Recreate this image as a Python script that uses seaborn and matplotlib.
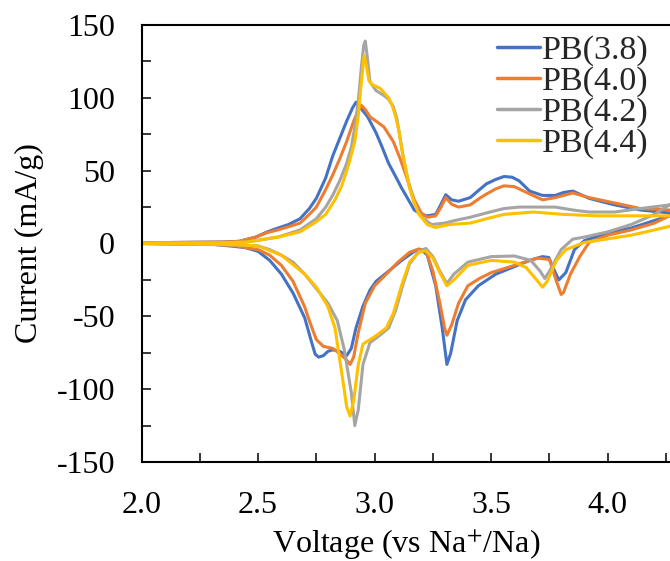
import numpy as np
import pandas as pd
import matplotlib
matplotlib.use("Agg")
import matplotlib.pyplot as plt
from matplotlib.ticker import MultipleLocator
import seaborn as sns

series_names = ["PB(3.8)", "PB(4.0)", "PB(4.2)", "PB(4.4)"]
series_colors = ["#4472C4", "#ED7D31", "#A5A5A5", "#FFC000"]

# ---- PB(3.8) ----
b_up_v = [2.00, 2.20, 2.35, 2.42, 2.49, 2.54, 2.585, 2.63, 2.68, 2.72, 2.75, 2.79, 2.82, 2.85, 2.88, 2.905, 2.92, 2.94, 2.97, 3.006, 3.03, 3.06, 3.09, 3.116, 3.145, 3.17, 3.20, 3.226, 3.262, 3.285, 3.305, 3.33, 3.36, 3.41, 3.45, 3.48, 3.52, 3.555, 3.59, 3.62, 3.665, 3.72, 3.775, 3.81, 3.85, 3.92, 4.03, 4.14, 4.265, 4.32]
b_up_i = [0.5, 0.8, 1.0, 1.5, 4.4, 8.0, 10.6, 13.0, 17.0, 24.0, 31.0, 45.0, 60.0, 72.0, 84.0, 93.0, 97.0, 93.0, 87.0, 76.0, 67.0, 55.0, 46.0, 38.0, 30.0, 23.0, 20.0, 19.0, 20.0, 27.0, 33.5, 30.0, 29.0, 31.5, 37.0, 41.0, 44.0, 46.0, 45.5, 43.0, 36.0, 33.0, 33.0, 35.0, 36.0, 31.0, 26.5, 23.0, 21.0, 20.0]
b_lo_v = [2.00, 2.30, 2.40, 2.45, 2.50, 2.55, 2.60, 2.65, 2.70, 2.73, 2.745, 2.76, 2.78, 2.80, 2.82, 2.85, 2.88, 2.90, 2.92, 2.95, 2.98, 3.006, 3.06, 3.116, 3.17, 3.20, 3.226, 3.262, 3.29, 3.31, 3.326, 3.354, 3.39, 3.445, 3.52, 3.59, 3.665, 3.72, 3.747, 3.765, 3.79, 3.82, 3.857, 3.90, 3.995, 4.10, 4.195, 4.265]
b_lo_i = [0.0, -0.5, -2.0, -3.0, -5.4, -11.6, -21.0, -34.0, -51.0, -68.0, -76.0, -78.0, -77.0, -74.0, -73.0, -74.0, -77.0, -72.0, -58.0, -43.0, -32.0, -26.0, -19.0, -11.6, -5.4, -4.2, -8.0, -29.0, -58.0, -83.0, -75.5, -53.0, -38.6, -29.0, -21.0, -16.5, -11.6, -9.0, -9.6, -16.5, -25.0, -20.0, -4.2, 2.0, 7.0, 10.6, 15.5, 19.0]

# ---- PB(4.0) ----
o_up_v = [2.00, 2.35, 2.42, 2.49, 2.54, 2.585, 2.63, 2.68, 2.72, 2.75, 2.79, 2.82, 2.85, 2.88, 2.91, 2.924, 2.942, 2.96, 2.98, 3.006, 3.04, 3.06, 3.08, 3.11, 3.134, 3.155, 3.17, 3.20, 3.226, 3.262, 3.285, 3.305, 3.33, 3.36, 3.41, 3.45, 3.48, 3.52, 3.555, 3.60, 3.665, 3.72, 3.775, 3.85, 3.92, 4.03, 4.14, 4.265, 4.32]
o_up_i = [0.5, 1.0, 1.5, 4.4, 7.5, 9.3, 11.5, 14.0, 20.0, 25.0, 37.0, 47.0, 58.0, 70.0, 84.0, 89.0, 95.0, 92.0, 87.0, 84.0, 80.0, 75.0, 70.0, 58.0, 47.0, 37.0, 30.0, 21.0, 18.0, 19.0, 25.0, 31.5, 27.0, 25.0, 26.5, 31.0, 34.0, 37.5, 39.6, 39.0, 34.0, 30.0, 31.5, 34.7, 31.5, 27.8, 24.0, 23.0, 21.0]
o_lo_v = [2.00, 2.30, 2.40, 2.50, 2.55, 2.60, 2.65, 2.70, 2.72, 2.75, 2.78, 2.82, 2.85, 2.88, 2.895, 2.91, 2.93, 2.96, 3.00, 3.05, 3.10, 3.15, 3.19, 3.22, 3.25, 3.28, 3.30, 3.31, 3.33, 3.36, 3.40, 3.45, 3.50, 3.60, 3.70, 3.75, 3.78, 3.80, 3.81, 3.84, 3.88, 3.92, 4.00, 4.10, 4.20, 4.265]
o_lo_i = [0.0, -0.5, -1.5, -4.2, -8.0, -15.0, -26.0, -43.5, -53.0, -66.0, -70.6, -72.0, -75.5, -80.0, -83.0, -78.0, -61.0, -41.0, -29.0, -21.0, -12.8, -6.0, -3.7, -5.4, -19.0, -41.0, -58.0, -63.0, -56.0, -41.0, -29.0, -24.0, -20.0, -15.0, -10.0, -11.0, -26.0, -35.0, -33.7, -21.0, -9.0, 0.7, 5.7, 9.3, 14.0, 19.0]

# ---- PB(4.2) ----
g_up_v = [2.00, 2.35, 2.45, 2.49, 2.585, 2.68, 2.75, 2.79, 2.82, 2.85, 2.88, 2.90, 2.915, 2.93, 2.942, 2.953, 2.96, 2.967, 2.98, 3.006, 3.04, 3.06, 3.08, 3.095, 3.107, 3.12, 3.134, 3.15, 3.17, 3.19, 3.21, 3.244, 3.30, 3.35, 3.41, 3.48, 3.555, 3.62, 3.68, 3.775, 3.85, 3.92, 4.03, 4.14, 4.265, 4.32]
g_up_i = [0.3, 0.5, 1.0, 2.0, 4.4, 9.3, 17.0, 25.0, 33.0, 43.0, 55.0, 66.0, 80.0, 98.0, 119.0, 136.0, 139.0, 130.0, 111.0, 105.0, 101.6, 99.0, 94.0, 86.0, 74.5, 62.0, 50.0, 39.0, 28.0, 21.0, 17.0, 13.0, 14.0, 16.0, 18.0, 21.0, 24.0, 25.0, 25.0, 25.0, 23.0, 21.6, 21.6, 24.0, 26.5, 28.0]
g_lo_v = [2.00, 2.40, 2.50, 2.55, 2.60, 2.65, 2.70, 2.75, 2.80, 2.84, 2.87, 2.90, 2.915, 2.93, 2.95, 2.98, 3.00, 3.03, 3.06, 3.09, 3.12, 3.15, 3.19, 3.22, 3.25, 3.28, 3.31, 3.34, 3.40, 3.50, 3.60, 3.67, 3.71, 3.73, 3.75, 3.80, 3.85, 3.90, 4.00, 4.10, 4.20, 4.265]
g_lo_i = [0.0, -1.0, -1.7, -4.2, -8.0, -12.8, -21.0, -31.0, -41.0, -53.0, -73.0, -102.5, -125.0, -114.0, -83.0, -68.0, -65.7, -62.0, -58.0, -46.0, -29.0, -14.0, -5.4, -3.4, -9.0, -19.0, -27.5, -21.0, -12.8, -9.0, -8.6, -11.6, -19.0, -24.0, -19.0, -4.2, 3.0, 4.4, 8.0, 13.0, 20.0, 26.5]

# ---- PB(4.4) ----
y_up_v = [2.00, 2.35, 2.45, 2.49, 2.585, 2.68, 2.75, 2.79, 2.83, 2.86, 2.89, 2.915, 2.93, 2.94, 2.955, 2.965, 2.975, 2.99, 3.024, 3.06, 3.075, 3.09, 3.105, 3.116, 3.135, 3.15, 3.17, 3.19, 3.226, 3.26, 3.32, 3.41, 3.48, 3.555, 3.68, 3.81, 3.96, 4.14, 4.265, 4.32]
y_up_i = [0.3, 0.5, 1.0, 2.0, 4.4, 8.0, 15.0, 20.0, 30.0, 40.0, 55.0, 70.0, 88.0, 106.0, 129.0, 122.0, 112.0, 109.0, 106.5, 100.0, 95.0, 87.0, 77.0, 65.0, 50.0, 38.0, 28.0, 20.0, 13.0, 11.0, 13.0, 14.0, 17.0, 20.0, 21.6, 20.0, 19.0, 19.0, 19.0, 16.0]
y_lo_v = [2.00, 2.40, 2.50, 2.60, 2.70, 2.75, 2.80, 2.83, 2.86, 2.88, 2.895, 2.91, 2.93, 2.95, 3.00, 3.05, 3.08, 3.12, 3.15, 3.19, 3.22, 3.25, 3.28, 3.31, 3.34, 3.40, 3.50, 3.60, 3.65, 3.70, 3.72, 3.74, 3.78, 3.82, 3.90, 4.00, 4.10, 4.20, 4.265]
y_lo_i = [0.0, -0.8, -1.7, -8.0, -21.0, -30.0, -43.5, -58.0, -90.0, -112.0, -118.5, -108.0, -83.0, -69.0, -64.0, -58.0, -48.0, -26.5, -12.8, -6.0, -5.0, -10.0, -20.0, -29.0, -25.0, -15.0, -11.6, -12.8, -16.5, -26.0, -30.0, -26.0, -11.6, -4.2, 0.7, 3.2, 5.7, 9.3, 11.8]

x_ticks = [2.0, 2.5, 3.0, 3.5, 4.0]
x_tick_labels = ["2.0", "2.5", "3.0", "3.5", "4.0"]
y_ticks = [-150, -100, -50, 0, 50, 100, 150]
y_tick_labels = ["-150", "-100", "-50", "0", "50", "100", "150"]

branches = [
    (b_up_v, b_up_i, b_lo_v, b_lo_i),
    (o_up_v, o_up_i, o_lo_v, o_lo_i),
    (g_up_v, g_up_i, g_lo_v, g_lo_i),
    (y_up_v, y_up_i, y_lo_v, y_lo_i),
]
frames = []
for name, (uv, ui, lv, li) in zip(series_names, branches):
    v = list(uv) + list(lv[::-1])
    i = list(ui) + list(li[::-1])
    frames.append(pd.DataFrame({"Voltage": v, "Current": i, "Sample": name}))
df = pd.concat(frames, ignore_index=True)

sns.set_theme(style="white")
plt.rcParams["font.family"] = ["Liberation Serif", "DejaVu Serif"]
plt.rcParams["mathtext.fontset"] = "stix"

fig = plt.figure(figsize=(6.70, 5.61), dpi=100)
ax = fig.add_axes([141.5 / 670, 99 / 561, (670 - 141.5) / 670, 437 / 561])

sns.lineplot(data=df, x="Voltage", y="Current", hue="Sample", sort=False,
             estimator=None, palette=series_colors, hue_order=series_names,
             linewidth=2.2, ax=ax)
for ln in ax.get_lines():
    ln.set_solid_joinstyle("round")
    ln.set_solid_capstyle("round")

ax.set_xlim(2.0, 4.267)
ax.set_ylim(-150, 150)
ax.set_xticks(x_ticks)
ax.set_xticklabels(x_tick_labels)
ax.set_yticks(y_ticks)
ax.set_yticklabels(y_tick_labels)
ax.xaxis.set_minor_locator(MultipleLocator(0.25))
ax.yaxis.set_minor_locator(MultipleLocator(25))
ax.tick_params(axis="both", which="both", direction="in", length=6.5, width=1.1,
               color="black", labelsize=23, labelcolor="black")
ax.tick_params(axis="x", which="both", pad=21, bottom=True, top=False)
ax.tick_params(axis="y", which="both", pad=19, left=True, right=False)

for side in ["left", "bottom", "top"]:
    ax.spines[side].set_color("black")
    ax.spines[side].set_linewidth(1.5)
ax.spines["right"].set_visible(False)

ax.set_xlabel("Voltage (vs Na$^{+}$/Na)", fontsize=23, color="black", labelpad=5)
ax.set_ylabel("Current (mA/g)", fontsize=23, color="black", labelpad=9)

leg = ax.legend(loc="upper right", bbox_to_anchor=(649 / 670, 1 - 35 / 561),
                bbox_transform=fig.transFigure, frameon=False, fontsize=24.5,
                handlelength=1.25, handletextpad=0.08, labelspacing=0.0,
                borderaxespad=0, borderpad=0)
for line in leg.get_lines():
    line.set_linewidth(2.5)

fig.savefig("out.png", dpi=100)
